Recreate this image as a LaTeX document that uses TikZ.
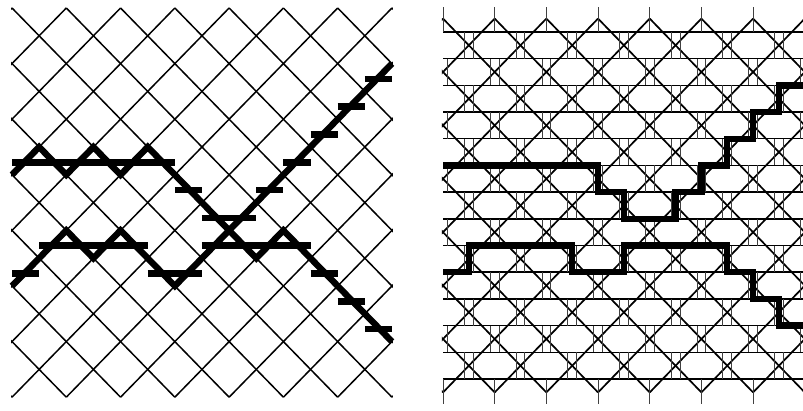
\documentclass[tikz,border=0pt]{standalone}
\usepackage{tikz}

\begin{document}
\begin{tikzpicture}[
  x=0.5pt, y=-0.5pt,
  bond/.style={line width=0.75pt, black},
  rung/.style={line width=0.45pt, black!75},
  wall/.style={line width=3.2pt, black, line join=miter},
  tick/.style={line width=3.3pt, black}
]
\useasboundingbox (0,0) rectangle (803,411);

% square lattice, turned by 45 degrees
\begin{scope}[shift={(12,8)}, x=13.57pt, y=-13.9pt]
  \begin{scope}
    \clip (-0.03,-0.03) rectangle (14.03,14.03);
    \foreach \c in {-14,-12,...,14}
      \draw[bond] (\c,0) -- ++(14,14);
    \foreach \c in {0,2,...,28}
      \draw[bond] (\c,0) -- ++(-14,14);
  \end{scope}
  \draw[wall] (0,6) -- (1,5) -- (2,6) -- (3,5) -- (4,6) -- (5,5) -- (8,8) -- (14,2);
  \draw[wall] (0,10) -- (1,9) -- (2,8) -- (3,9) -- (4,8) -- (6,10) -- (8,8)
    -- (9,9) -- (10,8) -- (14,12);
  \foreach \y/\a/\b in {5.55/0/6, 6.55/6/7, 7.55/7/9, 6.55/9/10, 5.55/10/11,
      4.55/11/12, 3.55/12/13, 2.55/13/14, 9.55/0/1, 8.55/1/5, 9.55/5/7,
      8.55/7/11, 9.55/11/12, 10.55/12/13, 11.55/13/14}
    \draw[tick] (\a,\y) -- (\b,\y);
\end{scope}

% the same lattice with rows and rungs
\begin{scope}[shift={(443,18.6)}, x=12.92pt, y=-13.35pt]
  \begin{scope}
    \clip (-0.04,-0.43) rectangle (14.04,14.4);
    \foreach \c in {-14,-12,...,14}
      \draw[bond, line width=0.85pt] (\c,0) -- ++(14,14);
    \foreach \c in {0,2,...,28}
      \draw[bond, line width=0.85pt] (\c,0) -- ++(-14,14);
    \foreach \m in {0,...,13}
      \draw[bond] (0,\m+0.5) -- (14,\m+0.5);
    \foreach \j in {0,14}
      \foreach \k in {0,2,...,14}
        \draw[rung] (\k,\j-0.5) -- ++(0,1);
    \foreach \j in {2,4,...,12}
      \foreach \k in {0,2,...,14}
        \draw[rung] (\k-0.17,\j-0.5) -- ++(0,1) (\k+0.17,\j-0.5) -- ++(0,1);
    \foreach \j in {1,3,...,13}
      \foreach \k in {1,3,...,13}
        \draw[rung] (\k-0.17,\j-0.5) -- ++(0,1) (\k+0.17,\j-0.5) -- ++(0,1);
  \end{scope}
  \draw[wall] (0,5.5) -- (6,5.5) -- (6,6.5) -- (7,6.5) -- (7,7.5) -- (9,7.5)
    -- (9,6.5) -- (10,6.5) -- (10,5.5) -- (11,5.5) -- (11,4.5) -- (12,4.5)
    -- (12,3.5) -- (13,3.5) -- (13,2.5) -- (14,2.5);
  \draw[wall] (0,9.5) -- (1,9.5) -- (1,8.5) -- (5,8.5) -- (5,9.5) -- (7,9.5)
    -- (7,8.5) -- (11,8.5) -- (11,9.5) -- (12,9.5) -- (12,10.5) -- (13,10.5)
    -- (13,11.5) -- (14,11.5);
\end{scope}
\end{tikzpicture}
\end{document}
